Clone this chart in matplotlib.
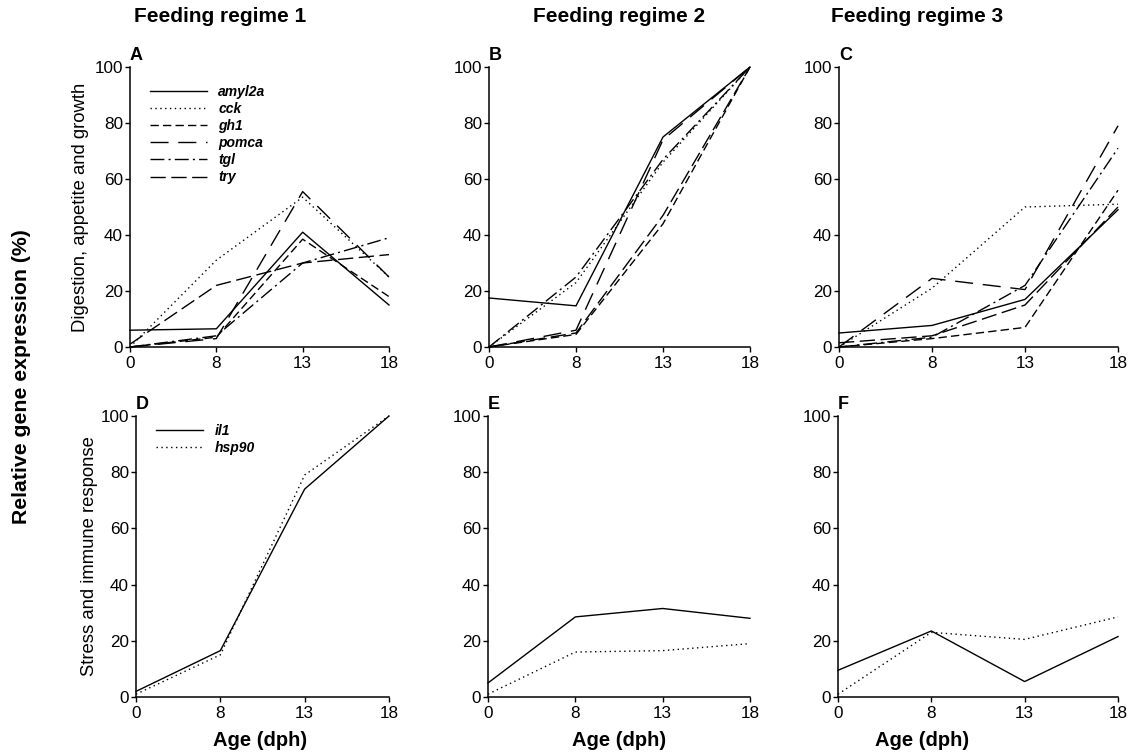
import matplotlib
matplotlib.use("Agg")
import matplotlib.pyplot as plt
from matplotlib.transforms import offset_copy

plt.rcParams["font.family"] = ["Liberation Sans", "DejaVu Sans"]

ages = ["0", "8", "13", "18"]
regimes = ["Feeding regime 1", "Feeding regime 2", "Feeding regime 3"]
top_genes = ["amyl2a", "cck", "gh1", "pomca", "tgl", "try"]
bottom_genes = ["il1", "hsp90"]

# digestion, appetite and growth (one list per regime, order = top_genes)
digestion_r1 = [
    [6, 6.5, 41, 15],
    [0, 31, 53.5, 25],
    [0, 3.5, 38.5, 18],
    [0, 3, 55.5, 25],
    [0, 4, 30, 39],
    [1, 22, 30, 33],
]
digestion_r2 = [
    [17.5, 14.7, 75, 100],
    [0, 23, 66, 100],
    [0, 4.5, 44, 100],
    [0, 6, 74, 100],
    [0, 25, 67, 100],
    [0, 5, 47, 100],
]
digestion_r3 = [
    [5, 7.7, 17, 49],
    [0, 21, 50, 51],
    [0, 3, 7, 56],
    [0, 24.5, 20.5, 79],
    [0, 3.5, 22, 71],
    [1.5, 4, 15, 50],
]

# stress and immune response (order = bottom_genes)
stress_r1 = [[2, 16.5, 74, 100], [1, 15, 79, 100]]
stress_r2 = [[5, 28.5, 31.5, 28], [1, 16, 16.5, 19]]
stress_r3 = [[9.5, 23.5, 5.5, 21.5], [1, 23, 20.5, 28.5]]

top_styles = ["-", (0, (1, 2.5)), (0, (6, 3)), (0, (13, 7)),
              (0, (10, 3, 1.5, 3)), (0, (11, 4))]
bottom_styles = ["-", (0, (1, 2.5))]

W, H = 1131, 754
fig = plt.figure(figsize=(W / 100, H / 100), dpi=100)

# axes boxes in pixels: (left, right) for columns, (top, bottom) for rows
cols_top = [(130, 389), (489, 750), (839, 1118)]
cols_bot = [(136, 389), (488, 750), (838, 1118)]
rows = [(67, 347), (416, 697)]
title_x = [220, 619, 917]
xlabel_x = [260, 619, 922]


def make_ax(xs, ys):
    l, r = xs
    t, b = ys
    return fig.add_axes([l / W, 1 - b / H, (r - l) / W, (b - t) / H])


def style(ax, letter):
    ax.set_xlim(0, 3)
    ax.set_ylim(0, 100)
    ax.set_xticks(range(4))
    ax.set_xticklabels(ages)
    ax.set_yticks(range(0, 101, 20))
    ax.spines["top"].set_visible(False)
    ax.spines["right"].set_visible(False)
    for s in ("left", "bottom"):
        ax.spines[s].set_linewidth(1.1)
    ax.tick_params(labelsize=12.3, length=3.5, width=1)
    ax.tick_params(axis="y", pad=1.5)
    ax.tick_params(axis="x", pad=3)
    tr = offset_copy(ax.transAxes, fig=fig, x=0, y=2, units="points")
    ax.text(0.0, 1.0, letter, transform=tr, fontsize=13,
            fontweight="bold", ha="left", va="bottom")


x = range(4)
top_data = [digestion_r1, digestion_r2, digestion_r3]
bot_data = [stress_r1, stress_r2, stress_r3]
leg_prop = {"size": 10, "weight": "bold", "style": "italic"}

for i in range(3):
    ax = make_ax(cols_top[i], rows[0])
    for vals, ls, g in zip(top_data[i], top_styles, top_genes):
        ax.plot(x, vals, color="black", lw=1.0, ls=ls, label=g, clip_on=False)
    style(ax, "ABC"[i])
    if i == 0:
        ax.set_ylabel("Digestion, appetite and growth", fontsize=13.3)
        ax.legend(loc="upper left", bbox_to_anchor=(0.03, 0.98),
                  frameon=False, handlelength=4.1, labelspacing=0.22,
                  prop=leg_prop)

    ax = make_ax(cols_bot[i], rows[1])
    for vals, ls, g in zip(bot_data[i], bottom_styles, bottom_genes):
        ax.plot(x, vals, color="black", lw=1.0, ls=ls, label=g, clip_on=False)
    style(ax, "DEF"[i])
    if i == 0:
        ax.set_ylabel("Stress and immune response", fontsize=13.3, labelpad=2)
        ax.legend(loc="upper left", bbox_to_anchor=(0.03, 1.015),
                  frameon=False, handlelength=3.4, labelspacing=0.22,
                  prop=leg_prop)

    fig.text(title_x[i] / W, 1 - 17 / H, regimes[i], fontsize=15,
             fontweight="bold", ha="center", va="center")
    fig.text(xlabel_x[i] / W, 1 - 740 / H, "Age (dph)", fontsize=14.5,
             fontweight="bold", ha="center", va="center")

fig.text(22 / W, 0.5, "Relative gene expression (%)", rotation=90,
         fontsize=15.3, fontweight="bold", ha="center", va="center")

fig.savefig("out.png", dpi=100)
